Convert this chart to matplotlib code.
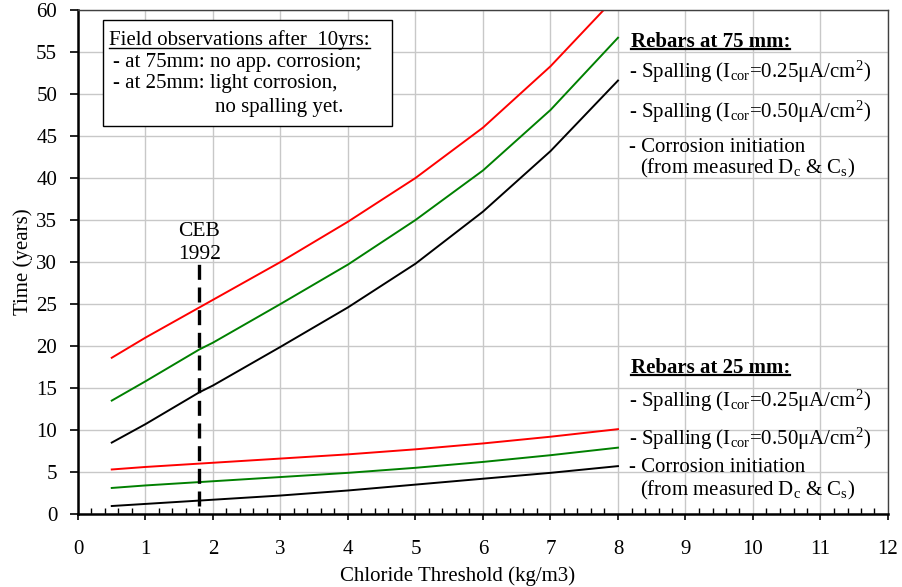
import matplotlib
matplotlib.use("Agg")
import matplotlib.pyplot as plt
from matplotlib.lines import Line2D
from matplotlib.patches import Rectangle
from matplotlib.ticker import MultipleLocator

plt.rcParams['font.family'] = ['Liberation Serif', 'DejaVu Serif']
plt.rcParams['mathtext.fontset'] = 'custom'
plt.rcParams['mathtext.rm'] = 'Liberation Serif'
plt.rcParams['mathtext.it'] = 'Liberation Serif:italic'
plt.rcParams['font.size'] = 15

# ---- data ----
chloride = [0.5, 1, 1.8, 2, 3, 4, 5, 6, 7, 8]
spall_025_75mm = [18.6, 21.0, 24.6, 25.5, 30.0, 34.8, 40.0, 46.0, 53.3, 61.8]
spall_050_75mm = [13.5, 15.8, 19.6, 20.4, 25.0, 29.7, 35.0, 40.9, 48.1, 56.7]
init_75mm = [8.5, 10.7, 14.5, 15.3, 19.9, 24.6, 29.8, 36.0, 43.2, 51.6]
spall_025_25mm = [5.3, 5.6, 6.0, 6.1, 6.6, 7.1, 7.7, 8.4, 9.2, 10.1]
spall_050_25mm = [3.1, 3.4, 3.8, 3.9, 4.4, 4.9, 5.5, 6.2, 7.0, 7.9]
init_25mm = [0.95, 1.2, 1.6, 1.7, 2.2, 2.8, 3.5, 4.2, 4.9, 5.7]
ceb_threshold = 1.8
ceb_range = [1.0, 30.0]

W, H = 903, 587
fig = plt.figure(figsize=(W / 100, H / 100), dpi=100)
ax = fig.add_axes([78 / W, 1 - 514 / H, (888 - 78) / W, (514 - 10) / H])

ax.set_xlim(0, 12)
ax.set_ylim(0, 60)
ax.xaxis.set_major_locator(MultipleLocator(1))
ax.xaxis.set_minor_locator(MultipleLocator(0.2))
ax.yaxis.set_major_locator(MultipleLocator(5))
ax.grid(True, which='major', color='#c8c8c8', lw=1.0)
ax.set_axisbelow(True)

for s in ['left', 'bottom']:
    ax.spines[s].set_color('black')
    ax.spines[s].set_linewidth(1.8)
for s in ['top', 'right']:
    ax.spines[s].set_color('#404040')
    ax.spines[s].set_linewidth(1.0)

ax.tick_params(axis='x', which='major', direction='out', length=4, width=1.2, pad=15)
ax.tick_params(axis='x', which='minor', direction='in', length=4, width=1.0)
ax.tick_params(axis='y', which='major', direction='out', length=6, width=1.2, pad=9)

lw = 1.4
ax.plot(chloride, spall_025_75mm, color='#ff0000', lw=lw)
ax.plot(chloride, spall_050_75mm, color='#008000', lw=lw)
ax.plot(chloride, init_75mm, color='black', lw=lw)
ax.plot(chloride, spall_025_25mm, color='#ff0000', lw=lw)
ax.plot(chloride, spall_050_25mm, color='#008000', lw=lw)
ax.plot(chloride, init_25mm, color='black', lw=lw)

ax.plot([ceb_threshold, ceb_threshold], ceb_range, color='black', lw=2.4,
        dashes=(4.5, 2.3))
ax.text(ceb_threshold, 33.1, 'CEB', ha='center', va='baseline', fontsize=15.5)
ax.text(ceb_threshold, 30.3, '1992', ha='center', va='baseline', fontsize=15.5)

ax.set_xlabel('Chloride Threshold (kg/m3)')
ax.set_ylabel('Time (years)')
ax.xaxis.set_label_coords(0.468, -0.103)
ax.yaxis.set_label_coords(-0.055, 0.5)

# field observation box
ax.add_patch(Rectangle((0.37, 46.2), 4.28, 12.6, fill=True, facecolor='white',
                       edgecolor='black', lw=1.0, zorder=3))
t_field = ax.text(0.46, 55.8, 'Field observations after  10yrs:', va='baseline', zorder=4)
ax.text(0.52, 53.25, '- at 75mm: no app. corrosion;', va='baseline', zorder=4)
ax.text(0.52, 50.7, '- at 25mm: light corrosion,', va='baseline', zorder=4)
ax.text(2.03, 47.9, 'no spalling yet.', va='baseline', zorder=4)

sp025 = '- Spalling (I$_{\\mathrm{cor}}$=0.25\u03bcA/cm$^{2}$)'
sp050 = '- Spalling (I$_{\\mathrm{cor}}$=0.50\u03bcA/cm$^{2}$)'
ini1 = '- Corrosion initiation'
ini2 = '(from measured D$_{\\mathrm{c}}$ & C$_{\\mathrm{s}}$)'

t75 = ax.text(8.19, 55.6, 'Rebars at 75 mm:', fontweight='bold', va='baseline')
ax.text(8.16, 51.9, sp025, va='baseline')
ax.text(8.16, 47.2, sp050, va='baseline')
ax.text(8.16, 43.1, ini1, va='baseline')
ax.text(8.33, 40.5, ini2, va='baseline')

t25 = ax.text(8.19, 16.8, 'Rebars at 25 mm:', fontweight='bold', va='baseline')
ax.text(8.16, 12.8, sp025, va='baseline')
ax.text(8.16, 8.2, sp050, va='baseline')
ax.text(8.16, 5.05, ini1, va='baseline')
ax.text(8.33, 2.15, ini2, va='baseline')

fig.canvas.draw()
r = fig.canvas.get_renderer()


def underline(t, lw_u):
    bb = t.get_window_extent(renderer=r)
    x0, y_base = t.get_transform().transform(t.get_position())
    y = y_base - 2.5
    fig.add_artist(Line2D([bb.x0 / W, bb.x1 / W], [y / H, y / H], color='black',
                          lw=lw_u, transform=fig.transFigure, zorder=5))


underline(t_field, 1.0)
underline(t75, 1.6)
underline(t25, 1.6)

fig.savefig('out.png', dpi=100)
